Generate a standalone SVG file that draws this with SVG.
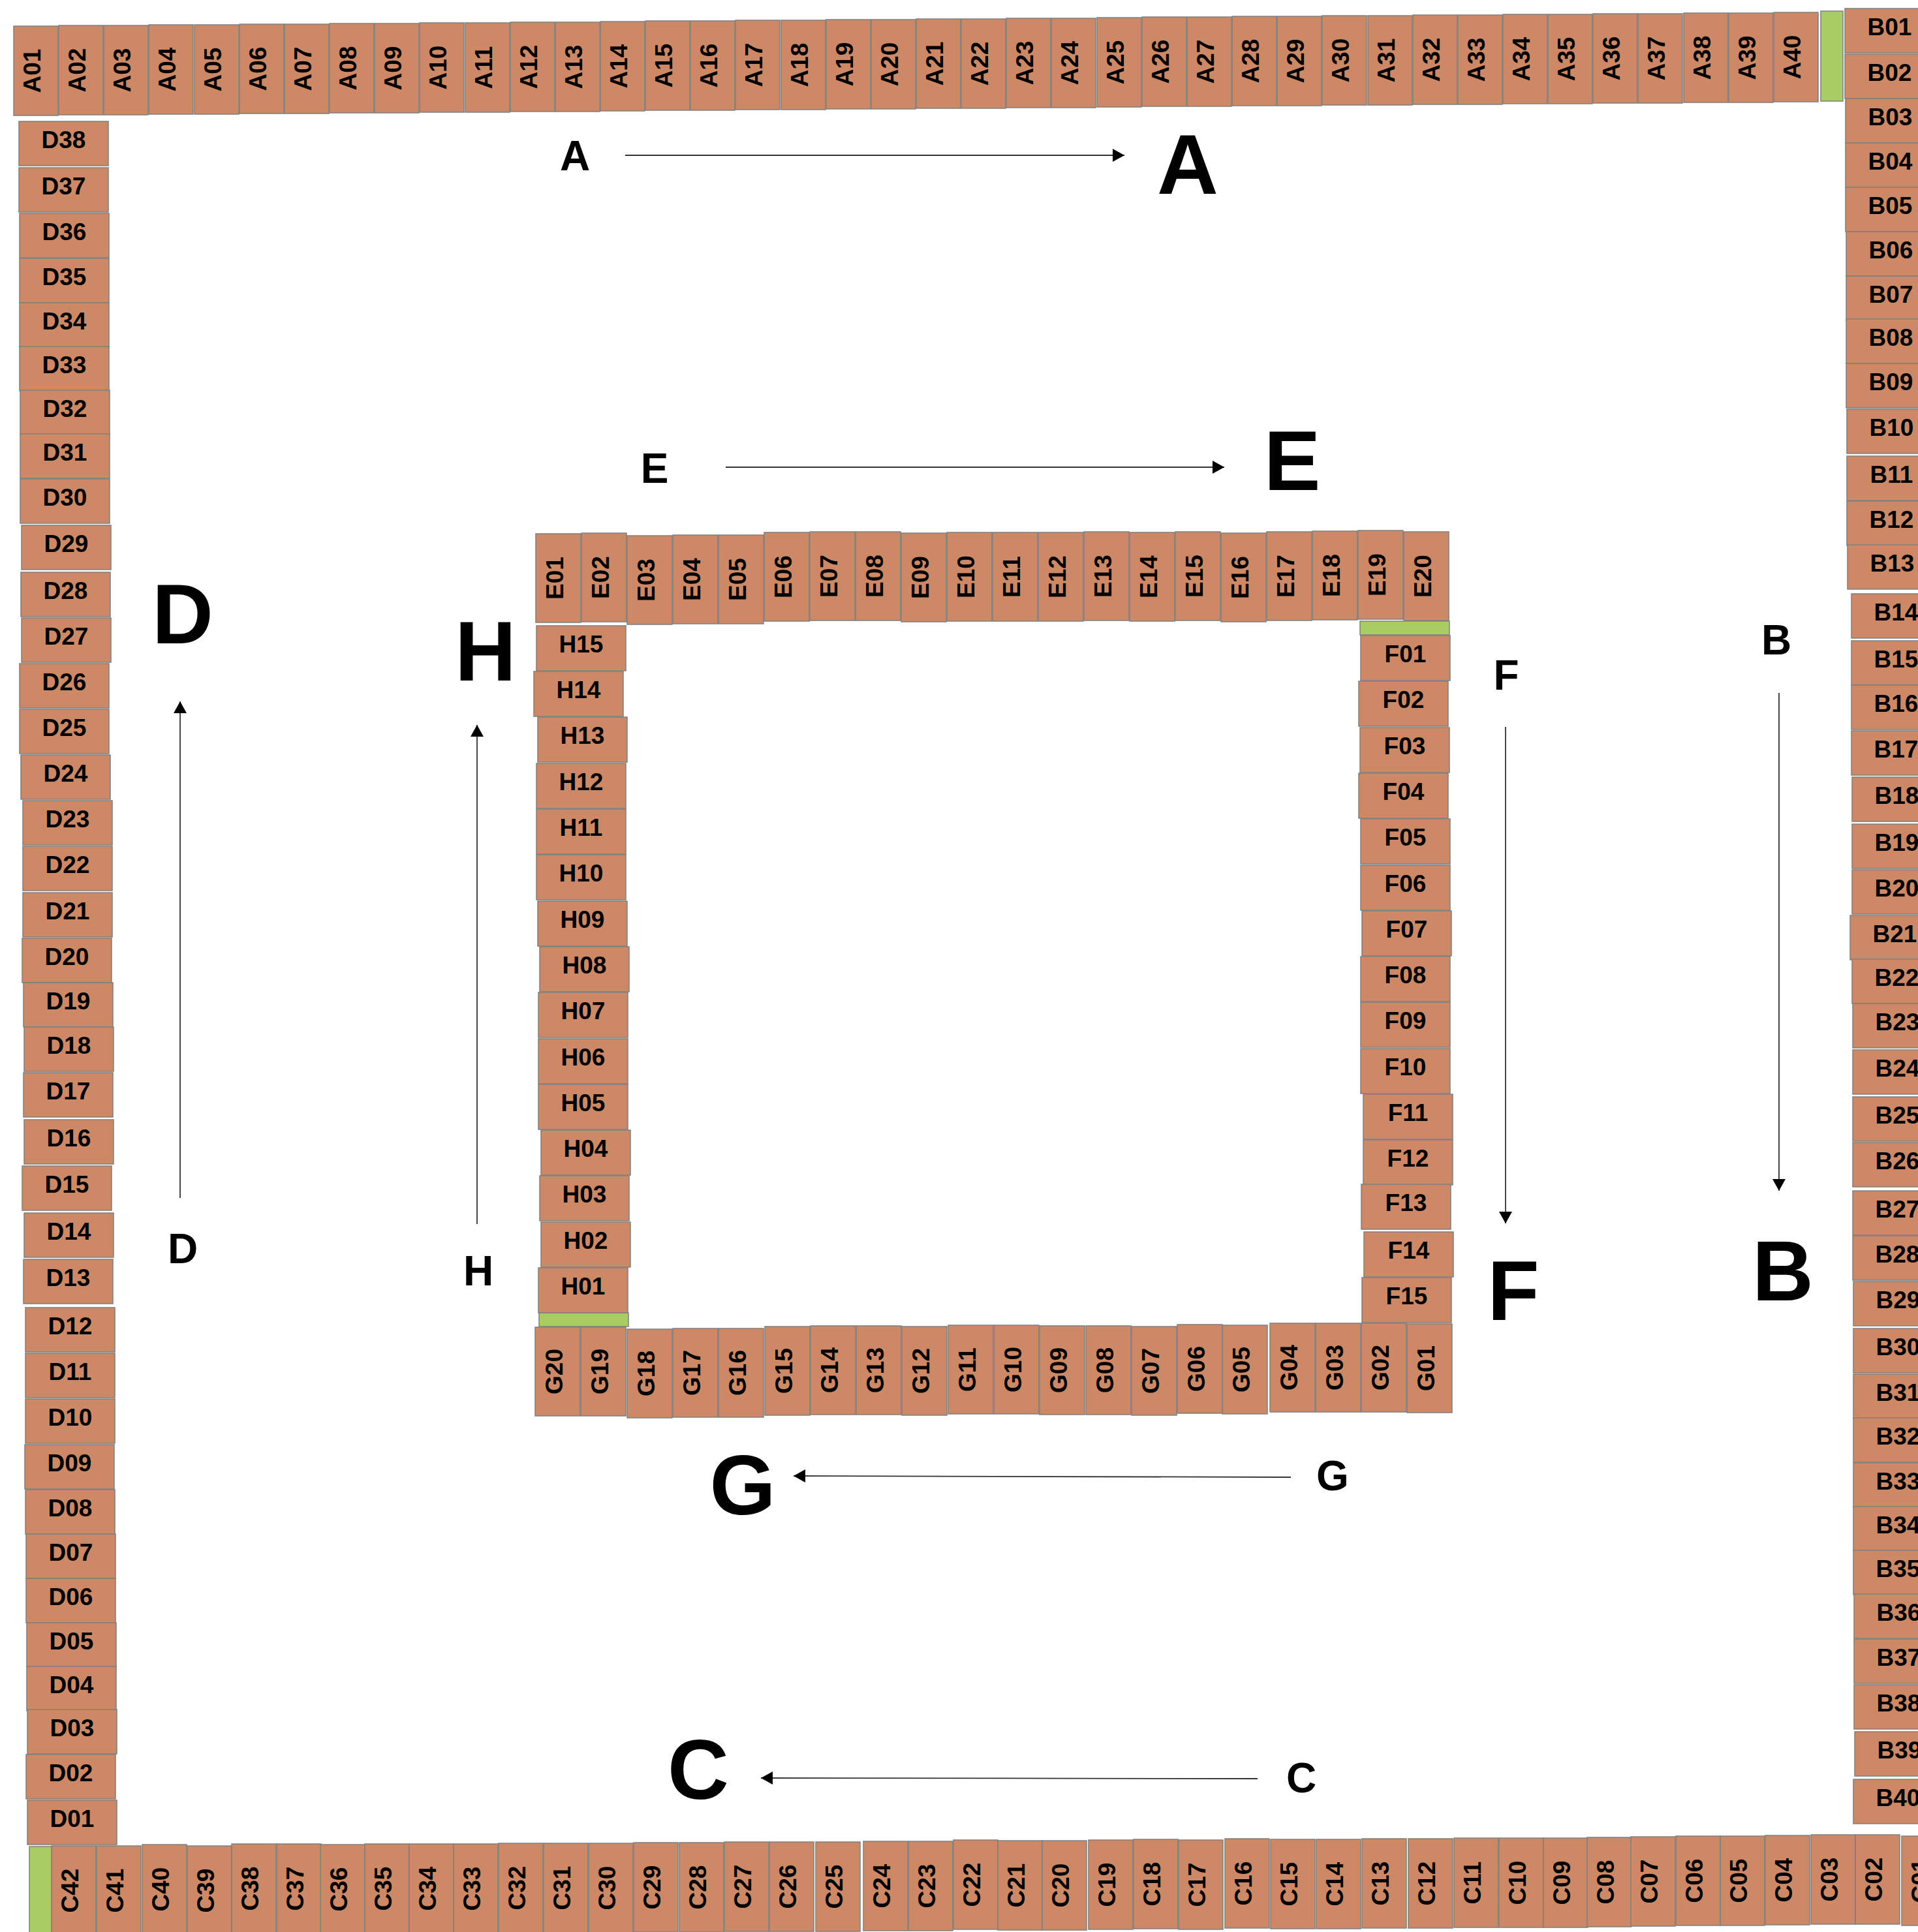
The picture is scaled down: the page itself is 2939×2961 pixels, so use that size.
<svg xmlns="http://www.w3.org/2000/svg" width="2939" height="2961" viewBox="0 0 2939 2961">
<style>
.b{fill:#CD8966;stroke:#7F7F7F;stroke-width:1.5}
.g{fill:#A9CC63;stroke:#7F7F7F;stroke-width:1.5}
text{font-family:"Liberation Sans",Arial,sans-serif;font-weight:bold;fill:#000}
.t{font-size:37px;text-anchor:middle;dominant-baseline:central}
.v{transform:rotate(-90deg)}
.sm{font-size:64px;text-anchor:middle}
.bg{font-size:130px;text-anchor:middle}
.ar{stroke:#333;stroke-width:1.8;fill:none;marker-end:url(#ah)}
</style>
<defs>
<marker id="ah" viewBox="0 0 18 20" refX="18" refY="10" markerWidth="18" markerHeight="20" markerUnits="userSpaceOnUse" orient="auto"><path d="M0,0 L18,10 L0,20 Z" fill="#000"/></marker>
</defs>
<rect width="2939" height="2961" fill="#fff"/>
<g id="rowA">
<g id="A01" transform="translate(21,40)"><rect class="b" width="68" height="137"/><text class="t v" x="-68.5" y="28.5">A01</text></g>
<g id="A02" transform="translate(90,39)"><rect class="b" width="68" height="137"/><text class="t v" x="-68.5" y="28.5">A02</text></g>
<g id="A03" transform="translate(159,39)"><rect class="b" width="68" height="137"/><text class="t v" x="-68.5" y="28.5">A03</text></g>
<g id="A04" transform="translate(228,38)"><rect class="b" width="68" height="137"/><text class="t v" x="-68.5" y="28.5">A04</text></g>
<g id="A05" transform="translate(298,38)"><rect class="b" width="68" height="137"/><text class="t v" x="-68.5" y="28.5">A05</text></g>
<g id="A06" transform="translate(367,37)"><rect class="b" width="68" height="137"/><text class="t v" x="-68.5" y="28.5">A06</text></g>
<g id="A07" transform="translate(436,37)"><rect class="b" width="68" height="137"/><text class="t v" x="-68.5" y="28.5">A07</text></g>
<g id="A08" transform="translate(505,36)"><rect class="b" width="68" height="137"/><text class="t v" x="-68.5" y="28.5">A08</text></g>
<g id="A09" transform="translate(574,36)"><rect class="b" width="68" height="137"/><text class="t v" x="-68.5" y="28.5">A09</text></g>
<g id="A10" transform="translate(643,35)"><rect class="b" width="68" height="137"/><text class="t v" x="-68.5" y="28.5">A10</text></g>
<g id="A11" transform="translate(713,35)"><rect class="b" width="68" height="137"/><text class="t v" x="-68.5" y="28.5">A11</text></g>
<g id="A12" transform="translate(782,34)"><rect class="b" width="68" height="137"/><text class="t v" x="-68.5" y="28.5">A12</text></g>
<g id="A13" transform="translate(851,34)"><rect class="b" width="68" height="137"/><text class="t v" x="-68.5" y="28.5">A13</text></g>
<g id="A14" transform="translate(920,33)"><rect class="b" width="68" height="137"/><text class="t v" x="-68.5" y="28.5">A14</text></g>
<g id="A15" transform="translate(989,32)"><rect class="b" width="68" height="137"/><text class="t v" x="-68.5" y="28.5">A15</text></g>
<g id="A16" transform="translate(1058,32)"><rect class="b" width="68" height="137"/><text class="t v" x="-68.5" y="28.5">A16</text></g>
<g id="A17" transform="translate(1127,31)"><rect class="b" width="68" height="137"/><text class="t v" x="-68.5" y="28.5">A17</text></g>
<g id="A18" transform="translate(1197,31)"><rect class="b" width="68" height="137"/><text class="t v" x="-68.5" y="28.5">A18</text></g>
<g id="A19" transform="translate(1266,30)"><rect class="b" width="68" height="137"/><text class="t v" x="-68.5" y="28.5">A19</text></g>
<g id="A20" transform="translate(1335,30)"><rect class="b" width="68" height="137"/><text class="t v" x="-68.5" y="28.5">A20</text></g>
<g id="A21" transform="translate(1404,29)"><rect class="b" width="68" height="137"/><text class="t v" x="-68.5" y="28.5">A21</text></g>
<g id="A22" transform="translate(1473,29)"><rect class="b" width="68" height="137"/><text class="t v" x="-68.5" y="28.5">A22</text></g>
<g id="A23" transform="translate(1542,28)"><rect class="b" width="68" height="137"/><text class="t v" x="-68.5" y="28.5">A23</text></g>
<g id="A24" transform="translate(1611,28)"><rect class="b" width="68" height="137"/><text class="t v" x="-68.5" y="28.5">A24</text></g>
<g id="A25" transform="translate(1681,27)"><rect class="b" width="68" height="137"/><text class="t v" x="-68.5" y="28.5">A25</text></g>
<g id="A26" transform="translate(1750,26)"><rect class="b" width="68" height="137"/><text class="t v" x="-68.5" y="28.5">A26</text></g>
<g id="A27" transform="translate(1819,26)"><rect class="b" width="68" height="137"/><text class="t v" x="-68.5" y="28.5">A27</text></g>
<g id="A28" transform="translate(1888,25)"><rect class="b" width="68" height="137"/><text class="t v" x="-68.5" y="28.5">A28</text></g>
<g id="A29" transform="translate(1957,25)"><rect class="b" width="68" height="137"/><text class="t v" x="-68.5" y="28.5">A29</text></g>
<g id="A30" transform="translate(2026,24)"><rect class="b" width="68" height="137"/><text class="t v" x="-68.5" y="28.5">A30</text></g>
<g id="A31" transform="translate(2096,24)"><rect class="b" width="68" height="137"/><text class="t v" x="-68.5" y="28.5">A31</text></g>
<g id="A32" transform="translate(2165,23)"><rect class="b" width="68" height="137"/><text class="t v" x="-68.5" y="28.5">A32</text></g>
<g id="A33" transform="translate(2234,23)"><rect class="b" width="68" height="137"/><text class="t v" x="-68.5" y="28.5">A33</text></g>
<g id="A34" transform="translate(2303,22)"><rect class="b" width="68" height="137"/><text class="t v" x="-68.5" y="28.5">A34</text></g>
<g id="A35" transform="translate(2372,22)"><rect class="b" width="68" height="137"/><text class="t v" x="-68.5" y="28.5">A35</text></g>
<g id="A36" transform="translate(2441,21)"><rect class="b" width="68" height="137"/><text class="t v" x="-68.5" y="28.5">A36</text></g>
<g id="A37" transform="translate(2510,21)"><rect class="b" width="68" height="137"/><text class="t v" x="-68.5" y="28.5">A37</text></g>
<g id="A38" transform="translate(2580,20)"><rect class="b" width="68" height="137"/><text class="t v" x="-68.5" y="28.5">A38</text></g>
<g id="A39" transform="translate(2649,20)"><rect class="b" width="68" height="137"/><text class="t v" x="-68.5" y="28.5">A39</text></g>
<g id="A40" transform="translate(2718,19)"><rect class="b" width="68" height="137"/><text class="t v" x="-68.5" y="28.5">A40</text></g>
<rect id="greenAB" class="g" x="2790" y="17" width="34" height="138"/>
</g>
<g id="colB">
<g id="B01" transform="translate(2827,13)"><rect class="b" width="137" height="68"/><text class="t" x="68.5" y="28">B01</text></g>
<g id="B02" transform="translate(2827,83)"><rect class="b" width="137" height="68"/><text class="t" x="68.5" y="28">B02</text></g>
<g id="B03" transform="translate(2828,151)"><rect class="b" width="137" height="68"/><text class="t" x="68.5" y="28">B03</text></g>
<g id="B04" transform="translate(2828,219)"><rect class="b" width="137" height="68"/><text class="t" x="68.5" y="28">B04</text></g>
<g id="B05" transform="translate(2828,287)"><rect class="b" width="137" height="68"/><text class="t" x="68.5" y="28">B05</text></g>
<g id="B06" transform="translate(2829,355)"><rect class="b" width="137" height="68"/><text class="t" x="68.5" y="28">B06</text></g>
<g id="B07" transform="translate(2829,423)"><rect class="b" width="137" height="68"/><text class="t" x="68.5" y="28">B07</text></g>
<g id="B08" transform="translate(2829,489)"><rect class="b" width="137" height="68"/><text class="t" x="68.5" y="28">B08</text></g>
<g id="B09" transform="translate(2829,557)"><rect class="b" width="137" height="68"/><text class="t" x="68.5" y="28">B09</text></g>
<g id="B10" transform="translate(2830,627)"><rect class="b" width="137" height="68"/><text class="t" x="68.5" y="28">B10</text></g>
<g id="B11" transform="translate(2830,699)"><rect class="b" width="137" height="68"/><text class="t" x="68.5" y="28">B11</text></g>
<g id="B12" transform="translate(2830,768)"><rect class="b" width="137" height="68"/><text class="t" x="68.5" y="28">B12</text></g>
<g id="B13" transform="translate(2831,835)"><rect class="b" width="137" height="68"/><text class="t" x="68.5" y="28">B13</text></g>
<g id="B14" transform="translate(2837,910)"><rect class="b" width="137" height="68"/><text class="t" x="68.5" y="28">B14</text></g>
<g id="B15" transform="translate(2837,982)"><rect class="b" width="137" height="68"/><text class="t" x="68.5" y="28">B15</text></g>
<g id="B16" transform="translate(2837,1050)"><rect class="b" width="137" height="68"/><text class="t" x="68.5" y="28">B16</text></g>
<g id="B17" transform="translate(2837,1120)"><rect class="b" width="137" height="68"/><text class="t" x="68.5" y="28">B17</text></g>
<g id="B18" transform="translate(2838,1191)"><rect class="b" width="137" height="68"/><text class="t" x="68.5" y="28">B18</text></g>
<g id="B19" transform="translate(2838,1263)"><rect class="b" width="137" height="68"/><text class="t" x="68.5" y="28">B19</text></g>
<g id="B20" transform="translate(2838,1333)"><rect class="b" width="137" height="68"/><text class="t" x="68.5" y="28">B20</text></g>
<g id="B21" transform="translate(2835,1403)"><rect class="b" width="137" height="68"/><text class="t" x="68.5" y="28">B21</text></g>
<g id="B22" transform="translate(2838,1470)"><rect class="b" width="137" height="68"/><text class="t" x="68.5" y="28">B22</text></g>
<g id="B23" transform="translate(2839,1538)"><rect class="b" width="137" height="68"/><text class="t" x="68.5" y="28">B23</text></g>
<g id="B24" transform="translate(2839,1609)"><rect class="b" width="137" height="68"/><text class="t" x="68.5" y="28">B24</text></g>
<g id="B25" transform="translate(2839,1681)"><rect class="b" width="137" height="68"/><text class="t" x="68.5" y="28">B25</text></g>
<g id="B26" transform="translate(2839,1751)"><rect class="b" width="137" height="68"/><text class="t" x="68.5" y="28">B26</text></g>
<g id="B27" transform="translate(2839,1825)"><rect class="b" width="137" height="68"/><text class="t" x="68.5" y="28">B27</text></g>
<g id="B28" transform="translate(2839,1894)"><rect class="b" width="137" height="68"/><text class="t" x="68.5" y="28">B28</text></g>
<g id="B29" transform="translate(2840,1964)"><rect class="b" width="137" height="68"/><text class="t" x="68.5" y="28">B29</text></g>
<g id="B30" transform="translate(2840,2036)"><rect class="b" width="137" height="68"/><text class="t" x="68.5" y="28">B30</text></g>
<g id="B31" transform="translate(2840,2106)"><rect class="b" width="137" height="68"/><text class="t" x="68.5" y="28">B31</text></g>
<g id="B32" transform="translate(2840,2173)"><rect class="b" width="137" height="68"/><text class="t" x="68.5" y="28">B32</text></g>
<g id="B33" transform="translate(2840,2242)"><rect class="b" width="137" height="68"/><text class="t" x="68.5" y="28">B33</text></g>
<g id="B34" transform="translate(2840,2309)"><rect class="b" width="137" height="68"/><text class="t" x="68.5" y="28">B34</text></g>
<g id="B35" transform="translate(2840,2376)"><rect class="b" width="137" height="68"/><text class="t" x="68.5" y="28">B35</text></g>
<g id="B36" transform="translate(2841,2443)"><rect class="b" width="137" height="68"/><text class="t" x="68.5" y="28">B36</text></g>
<g id="B37" transform="translate(2841,2512)"><rect class="b" width="137" height="68"/><text class="t" x="68.5" y="28">B37</text></g>
<g id="B38" transform="translate(2841,2582)"><rect class="b" width="137" height="68"/><text class="t" x="68.5" y="28">B38</text></g>
<g id="B39" transform="translate(2842,2654)"><rect class="b" width="137" height="68"/><text class="t" x="68.5" y="28">B39</text></g>
<g id="B40" transform="translate(2840,2727)"><rect class="b" width="137" height="68"/><text class="t" x="68.5" y="28">B40</text></g>
</g>
<g id="colD">
<g id="D38" transform="translate(29,186)"><rect class="b" width="137" height="68"/><text class="t" x="68.5" y="28">D38</text></g>
<g id="D37" transform="translate(29,257)"><rect class="b" width="137" height="68"/><text class="t" x="68.5" y="28">D37</text></g>
<g id="D36" transform="translate(30,327)"><rect class="b" width="137" height="68"/><text class="t" x="68.5" y="28">D36</text></g>
<g id="D35" transform="translate(30,396)"><rect class="b" width="137" height="68"/><text class="t" x="68.5" y="28">D35</text></g>
<g id="D34" transform="translate(30,464)"><rect class="b" width="137" height="68"/><text class="t" x="68.5" y="28">D34</text></g>
<g id="D33" transform="translate(30,531)"><rect class="b" width="137" height="68"/><text class="t" x="68.5" y="28">D33</text></g>
<g id="D32" transform="translate(31,598)"><rect class="b" width="137" height="68"/><text class="t" x="68.5" y="28">D32</text></g>
<g id="D31" transform="translate(31,665)"><rect class="b" width="137" height="68"/><text class="t" x="68.5" y="28">D31</text></g>
<g id="D30" transform="translate(31,734)"><rect class="b" width="137" height="68"/><text class="t" x="68.5" y="28">D30</text></g>
<g id="D29" transform="translate(33,805)"><rect class="b" width="137" height="68"/><text class="t" x="68.5" y="28">D29</text></g>
<g id="D28" transform="translate(32,877)"><rect class="b" width="137" height="68"/><text class="t" x="68.5" y="28">D28</text></g>
<g id="D27" transform="translate(33,947)"><rect class="b" width="137" height="68"/><text class="t" x="68.5" y="28">D27</text></g>
<g id="D26" transform="translate(30,1017)"><rect class="b" width="137" height="68"/><text class="t" x="68.5" y="28">D26</text></g>
<g id="D25" transform="translate(30,1087)"><rect class="b" width="137" height="68"/><text class="t" x="68.5" y="28">D25</text></g>
<g id="D24" transform="translate(32,1157)"><rect class="b" width="137" height="68"/><text class="t" x="68.5" y="28">D24</text></g>
<g id="D23" transform="translate(35,1227)"><rect class="b" width="137" height="68"/><text class="t" x="68.5" y="28">D23</text></g>
<g id="D22" transform="translate(35,1297)"><rect class="b" width="137" height="68"/><text class="t" x="68.5" y="28">D22</text></g>
<g id="D21" transform="translate(35,1368)"><rect class="b" width="137" height="68"/><text class="t" x="68.5" y="28">D21</text></g>
<g id="D20" transform="translate(34,1438)"><rect class="b" width="137" height="68"/><text class="t" x="68.5" y="28">D20</text></g>
<g id="D19" transform="translate(36,1506)"><rect class="b" width="137" height="68"/><text class="t" x="68.5" y="28">D19</text></g>
<g id="D18" transform="translate(37,1574)"><rect class="b" width="137" height="68"/><text class="t" x="68.5" y="28">D18</text></g>
<g id="D17" transform="translate(36,1644)"><rect class="b" width="137" height="68"/><text class="t" x="68.5" y="28">D17</text></g>
<g id="D16" transform="translate(37,1716)"><rect class="b" width="137" height="68"/><text class="t" x="68.5" y="28">D16</text></g>
<g id="D15" transform="translate(34,1787)"><rect class="b" width="137" height="68"/><text class="t" x="68.5" y="28">D15</text></g>
<g id="D14" transform="translate(37,1859)"><rect class="b" width="137" height="68"/><text class="t" x="68.5" y="28">D14</text></g>
<g id="D13" transform="translate(36,1930)"><rect class="b" width="137" height="68"/><text class="t" x="68.5" y="28">D13</text></g>
<g id="D12" transform="translate(39,2004)"><rect class="b" width="137" height="68"/><text class="t" x="68.5" y="28">D12</text></g>
<g id="D11" transform="translate(39,2074)"><rect class="b" width="137" height="68"/><text class="t" x="68.5" y="28">D11</text></g>
<g id="D10" transform="translate(39,2144)"><rect class="b" width="137" height="68"/><text class="t" x="68.5" y="28">D10</text></g>
<g id="D09" transform="translate(38,2214)"><rect class="b" width="137" height="68"/><text class="t" x="68.5" y="28">D09</text></g>
<g id="D08" transform="translate(39,2283)"><rect class="b" width="137" height="68"/><text class="t" x="68.5" y="28">D08</text></g>
<g id="D07" transform="translate(40,2351)"><rect class="b" width="137" height="68"/><text class="t" x="68.5" y="28">D07</text></g>
<g id="D06" transform="translate(40,2419)"><rect class="b" width="137" height="68"/><text class="t" x="68.5" y="28">D06</text></g>
<g id="D05" transform="translate(41,2487)"><rect class="b" width="137" height="68"/><text class="t" x="68.5" y="28">D05</text></g>
<g id="D04" transform="translate(41,2554)"><rect class="b" width="137" height="68"/><text class="t" x="68.5" y="28">D04</text></g>
<g id="D03" transform="translate(42,2620)"><rect class="b" width="137" height="68"/><text class="t" x="68.5" y="28">D03</text></g>
<g id="D02" transform="translate(40,2689)"><rect class="b" width="137" height="68"/><text class="t" x="68.5" y="28">D02</text></g>
<g id="D01" transform="translate(42,2759)"><rect class="b" width="137" height="68"/><text class="t" x="68.5" y="28">D01</text></g>
</g>
<g id="rowC">
<rect id="greenCD" class="g" x="45" y="2830" width="34" height="137"/>
<g id="C42" transform="translate(79,2829)"><rect class="b" width="68" height="137"/><text class="t v" x="-68.5" y="28.5">C42</text></g>
<g id="C41" transform="translate(148,2829)"><rect class="b" width="68" height="137"/><text class="t v" x="-68.5" y="28.5">C41</text></g>
<g id="C40" transform="translate(218,2827)"><rect class="b" width="68" height="137"/><text class="t v" x="-68.5" y="28.5">C40</text></g>
<g id="C39" transform="translate(287,2829)"><rect class="b" width="68" height="137"/><text class="t v" x="-68.5" y="28.5">C39</text></g>
<g id="C38" transform="translate(355,2826)"><rect class="b" width="68" height="137"/><text class="t v" x="-68.5" y="28.5">C38</text></g>
<g id="C37" transform="translate(424,2826)"><rect class="b" width="68" height="137"/><text class="t v" x="-68.5" y="28.5">C37</text></g>
<g id="C36" transform="translate(491,2827)"><rect class="b" width="68" height="137"/><text class="t v" x="-68.5" y="28.5">C36</text></g>
<g id="C35" transform="translate(559,2826)"><rect class="b" width="68" height="137"/><text class="t v" x="-68.5" y="28.5">C35</text></g>
<g id="C34" transform="translate(627,2826)"><rect class="b" width="68" height="137"/><text class="t v" x="-68.5" y="28.5">C34</text></g>
<g id="C33" transform="translate(695,2826)"><rect class="b" width="68" height="137"/><text class="t v" x="-68.5" y="28.5">C33</text></g>
<g id="C32" transform="translate(764,2825)"><rect class="b" width="68" height="137"/><text class="t v" x="-68.5" y="28.5">C32</text></g>
<g id="C31" transform="translate(833,2825)"><rect class="b" width="68" height="137"/><text class="t v" x="-68.5" y="28.5">C31</text></g>
<g id="C30" transform="translate(902,2825)"><rect class="b" width="68" height="137"/><text class="t v" x="-68.5" y="28.5">C30</text></g>
<g id="C29" transform="translate(971,2824)"><rect class="b" width="68" height="137"/><text class="t v" x="-68.5" y="28.5">C29</text></g>
<g id="C28" transform="translate(1041,2824)"><rect class="b" width="68" height="137"/><text class="t v" x="-68.5" y="28.5">C28</text></g>
<g id="C27" transform="translate(1110,2823)"><rect class="b" width="68" height="137"/><text class="t v" x="-68.5" y="28.5">C27</text></g>
<g id="C26" transform="translate(1179,2823)"><rect class="b" width="68" height="137"/><text class="t v" x="-68.5" y="28.5">C26</text></g>
<g id="C25" transform="translate(1250,2823)"><rect class="b" width="68" height="137"/><text class="t v" x="-68.5" y="28.5">C25</text></g>
<g id="C24" transform="translate(1323,2822)"><rect class="b" width="68" height="137"/><text class="t v" x="-68.5" y="28.5">C24</text></g>
<g id="C23" transform="translate(1392,2822)"><rect class="b" width="68" height="137"/><text class="t v" x="-68.5" y="28.5">C23</text></g>
<g id="C22" transform="translate(1461,2820)"><rect class="b" width="68" height="137"/><text class="t v" x="-68.5" y="28.5">C22</text></g>
<g id="C21" transform="translate(1529,2821)"><rect class="b" width="68" height="137"/><text class="t v" x="-68.5" y="28.5">C21</text></g>
<g id="C20" transform="translate(1597,2821)"><rect class="b" width="68" height="137"/><text class="t v" x="-68.5" y="28.5">C20</text></g>
<g id="C19" transform="translate(1668,2820)"><rect class="b" width="68" height="137"/><text class="t v" x="-68.5" y="28.5">C19</text></g>
<g id="C18" transform="translate(1737,2819)"><rect class="b" width="68" height="137"/><text class="t v" x="-68.5" y="28.5">C18</text></g>
<g id="C17" transform="translate(1806,2820)"><rect class="b" width="68" height="137"/><text class="t v" x="-68.5" y="28.5">C17</text></g>
<g id="C16" transform="translate(1877,2818)"><rect class="b" width="68" height="137"/><text class="t v" x="-68.5" y="28.5">C16</text></g>
<g id="C15" transform="translate(1947,2819)"><rect class="b" width="68" height="137"/><text class="t v" x="-68.5" y="28.5">C15</text></g>
<g id="C14" transform="translate(2017,2819)"><rect class="b" width="68" height="137"/><text class="t v" x="-68.5" y="28.5">C14</text></g>
<g id="C13" transform="translate(2087,2818)"><rect class="b" width="68" height="137"/><text class="t v" x="-68.5" y="28.5">C13</text></g>
<g id="C12" transform="translate(2158,2818)"><rect class="b" width="68" height="137"/><text class="t v" x="-68.5" y="28.5">C12</text></g>
<g id="C11" transform="translate(2228,2817)"><rect class="b" width="68" height="137"/><text class="t v" x="-68.5" y="28.5">C11</text></g>
<g id="C10" transform="translate(2297,2817)"><rect class="b" width="68" height="137"/><text class="t v" x="-68.5" y="28.5">C10</text></g>
<g id="C09" transform="translate(2365,2817)"><rect class="b" width="68" height="137"/><text class="t v" x="-68.5" y="28.5">C09</text></g>
<g id="C08" transform="translate(2432,2816)"><rect class="b" width="68" height="137"/><text class="t v" x="-68.5" y="28.5">C08</text></g>
<g id="C07" transform="translate(2499,2815)"><rect class="b" width="68" height="137"/><text class="t v" x="-68.5" y="28.5">C07</text></g>
<g id="C06" transform="translate(2568,2814)"><rect class="b" width="68" height="137"/><text class="t v" x="-68.5" y="28.5">C06</text></g>
<g id="C05" transform="translate(2636,2814)"><rect class="b" width="68" height="137"/><text class="t v" x="-68.5" y="28.5">C05</text></g>
<g id="C04" transform="translate(2705,2813)"><rect class="b" width="68" height="137"/><text class="t v" x="-68.5" y="28.5">C04</text></g>
<g id="C03" transform="translate(2775,2812)"><rect class="b" width="68" height="137"/><text class="t v" x="-68.5" y="28.5">C03</text></g>
<g id="C02" transform="translate(2843,2812)"><rect class="b" width="68" height="137"/><text class="t v" x="-68.5" y="28.5">C02</text></g>
<g id="C01" transform="translate(2914,2814)"><rect class="b" width="68" height="137"/><text class="t v" x="-68.5" y="28.5">C01</text></g>
</g>
<g id="rowE">
<g id="E01" transform="translate(821,818)"><rect class="b" width="69" height="136"/><text class="t v" x="-68" y="29">E01</text></g>
<g id="E02" transform="translate(891,817)"><rect class="b" width="69" height="136"/><text class="t v" x="-68" y="29">E02</text></g>
<g id="E03" transform="translate(961,821)"><rect class="b" width="69" height="136"/><text class="t v" x="-68" y="29">E03</text></g>
<g id="E04" transform="translate(1031,820)"><rect class="b" width="69" height="136"/><text class="t v" x="-68" y="29">E04</text></g>
<g id="E05" transform="translate(1101,820)"><rect class="b" width="69" height="136"/><text class="t v" x="-68" y="29">E05</text></g>
<g id="E06" transform="translate(1171,816)"><rect class="b" width="69" height="136"/><text class="t v" x="-68" y="29">E06</text></g>
<g id="E07" transform="translate(1241,815)"><rect class="b" width="69" height="136"/><text class="t v" x="-68" y="29">E07</text></g>
<g id="E08" transform="translate(1311,815)"><rect class="b" width="69" height="136"/><text class="t v" x="-68" y="29">E08</text></g>
<g id="E09" transform="translate(1381,817)"><rect class="b" width="69" height="136"/><text class="t v" x="-68" y="29">E09</text></g>
<g id="E10" transform="translate(1451,816)"><rect class="b" width="69" height="136"/><text class="t v" x="-68" y="29">E10</text></g>
<g id="E11" transform="translate(1521,816)"><rect class="b" width="69" height="136"/><text class="t v" x="-68" y="29">E11</text></g>
<g id="E12" transform="translate(1591,816)"><rect class="b" width="69" height="136"/><text class="t v" x="-68" y="29">E12</text></g>
<g id="E13" transform="translate(1661,815)"><rect class="b" width="69" height="136"/><text class="t v" x="-68" y="29">E13</text></g>
<g id="E14" transform="translate(1731,816)"><rect class="b" width="69" height="136"/><text class="t v" x="-68" y="29">E14</text></g>
<g id="E15" transform="translate(1801,815)"><rect class="b" width="69" height="136"/><text class="t v" x="-68" y="29">E15</text></g>
<g id="E16" transform="translate(1871,817)"><rect class="b" width="69" height="136"/><text class="t v" x="-68" y="29">E16</text></g>
<g id="E17" transform="translate(1941,815)"><rect class="b" width="69" height="136"/><text class="t v" x="-68" y="29">E17</text></g>
<g id="E18" transform="translate(2011,814)"><rect class="b" width="69" height="136"/><text class="t v" x="-68" y="29">E18</text></g>
<g id="E19" transform="translate(2081,813)"><rect class="b" width="69" height="136"/><text class="t v" x="-68" y="29">E19</text></g>
<g id="E20" transform="translate(2151,815)"><rect class="b" width="69" height="136"/><text class="t v" x="-68" y="29">E20</text></g>
<rect id="greenEF" class="g" x="2084" y="952" width="137" height="21"/>
</g>
<g id="colF">
<g id="F01" transform="translate(2085,974)"><rect class="b" width="137" height="69"/><text class="t" x="68.5" y="28.5">F01</text></g>
<g id="F02" transform="translate(2082,1044)"><rect class="b" width="137" height="69"/><text class="t" x="68.5" y="28.5">F02</text></g>
<g id="F03" transform="translate(2084,1115)"><rect class="b" width="137" height="69"/><text class="t" x="68.5" y="28.5">F03</text></g>
<g id="F04" transform="translate(2082,1185)"><rect class="b" width="137" height="69"/><text class="t" x="68.5" y="28.5">F04</text></g>
<g id="F05" transform="translate(2085,1255)"><rect class="b" width="137" height="69"/><text class="t" x="68.5" y="28.5">F05</text></g>
<g id="F06" transform="translate(2085,1326)"><rect class="b" width="137" height="69"/><text class="t" x="68.5" y="28.5">F06</text></g>
<g id="F07" transform="translate(2087,1396)"><rect class="b" width="137" height="69"/><text class="t" x="68.5" y="28.5">F07</text></g>
<g id="F08" transform="translate(2085,1466)"><rect class="b" width="137" height="69"/><text class="t" x="68.5" y="28.5">F08</text></g>
<g id="F09" transform="translate(2085,1536)"><rect class="b" width="137" height="69"/><text class="t" x="68.5" y="28.5">F09</text></g>
<g id="F10" transform="translate(2085,1607)"><rect class="b" width="137" height="69"/><text class="t" x="68.5" y="28.5">F10</text></g>
<g id="F11" transform="translate(2089,1677)"><rect class="b" width="137" height="69"/><text class="t" x="68.5" y="28.5">F11</text></g>
<g id="F12" transform="translate(2089,1747)"><rect class="b" width="137" height="69"/><text class="t" x="68.5" y="28.5">F12</text></g>
<g id="F13" transform="translate(2086,1815)"><rect class="b" width="137" height="69"/><text class="t" x="68.5" y="28.5">F13</text></g>
<g id="F14" transform="translate(2090,1888)"><rect class="b" width="137" height="69"/><text class="t" x="68.5" y="28.5">F14</text></g>
<g id="F15" transform="translate(2087,1958)"><rect class="b" width="137" height="69"/><text class="t" x="68.5" y="28.5">F15</text></g>
</g>
<g id="rowG">
<g id="G20" transform="translate(820,2034)"><rect class="b" width="69" height="136"/><text class="t v" x="-68" y="29">G20</text></g>
<g id="G19" transform="translate(890,2034)"><rect class="b" width="69" height="136"/><text class="t v" x="-68" y="29">G19</text></g>
<g id="G18" transform="translate(961,2037)"><rect class="b" width="69" height="136"/><text class="t v" x="-68" y="29">G18</text></g>
<g id="G17" transform="translate(1031,2036)"><rect class="b" width="69" height="136"/><text class="t v" x="-68" y="29">G17</text></g>
<g id="G16" transform="translate(1101,2036)"><rect class="b" width="69" height="136"/><text class="t v" x="-68" y="29">G16</text></g>
<g id="G15" transform="translate(1172,2033)"><rect class="b" width="69" height="136"/><text class="t v" x="-68" y="29">G15</text></g>
<g id="G14" transform="translate(1242,2032)"><rect class="b" width="69" height="136"/><text class="t v" x="-68" y="29">G14</text></g>
<g id="G13" transform="translate(1312,2032)"><rect class="b" width="69" height="136"/><text class="t v" x="-68" y="29">G13</text></g>
<g id="G12" transform="translate(1382,2033)"><rect class="b" width="69" height="136"/><text class="t v" x="-68" y="29">G12</text></g>
<g id="G11" transform="translate(1453,2031)"><rect class="b" width="69" height="136"/><text class="t v" x="-68" y="29">G11</text></g>
<g id="G10" transform="translate(1523,2031)"><rect class="b" width="69" height="136"/><text class="t v" x="-68" y="29">G10</text></g>
<g id="G09" transform="translate(1593,2032)"><rect class="b" width="69" height="136"/><text class="t v" x="-68" y="29">G09</text></g>
<g id="G08" transform="translate(1664,2032)"><rect class="b" width="69" height="136"/><text class="t v" x="-68" y="29">G08</text></g>
<g id="G07" transform="translate(1734,2033)"><rect class="b" width="69" height="136"/><text class="t v" x="-68" y="29">G07</text></g>
<g id="G06" transform="translate(1804,2030)"><rect class="b" width="69" height="136"/><text class="t v" x="-68" y="29">G06</text></g>
<g id="G05" transform="translate(1873,2031)"><rect class="b" width="69" height="136"/><text class="t v" x="-68" y="29">G05</text></g>
<g id="G04" transform="translate(1946,2028)"><rect class="b" width="69" height="136"/><text class="t v" x="-68" y="29">G04</text></g>
<g id="G03" transform="translate(2016,2028)"><rect class="b" width="69" height="136"/><text class="t v" x="-68" y="29">G03</text></g>
<g id="G02" transform="translate(2086,2028)"><rect class="b" width="69" height="136"/><text class="t v" x="-68" y="29">G02</text></g>
<g id="G01" transform="translate(2156,2029)"><rect class="b" width="69" height="136"/><text class="t v" x="-68" y="29">G01</text></g>
</g>
<g id="colH">
<rect id="greenGH" class="g" x="826" y="2012" width="137" height="21"/>
<g id="H01" transform="translate(825,1943)"><rect class="b" width="137" height="69"/><text class="t" x="68.5" y="28.5">H01</text></g>
<g id="H02" transform="translate(829,1873)"><rect class="b" width="137" height="69"/><text class="t" x="68.5" y="28.5">H02</text></g>
<g id="H03" transform="translate(827,1802)"><rect class="b" width="137" height="69"/><text class="t" x="68.5" y="28.5">H03</text></g>
<g id="H04" transform="translate(829,1732)"><rect class="b" width="137" height="69"/><text class="t" x="68.5" y="28.5">H04</text></g>
<g id="H05" transform="translate(825,1662)"><rect class="b" width="137" height="69"/><text class="t" x="68.5" y="28.5">H05</text></g>
<g id="H06" transform="translate(825,1592)"><rect class="b" width="137" height="69"/><text class="t" x="68.5" y="28.5">H06</text></g>
<g id="H07" transform="translate(825,1521)"><rect class="b" width="137" height="69"/><text class="t" x="68.5" y="28.5">H07</text></g>
<g id="H08" transform="translate(827,1451)"><rect class="b" width="137" height="69"/><text class="t" x="68.5" y="28.5">H08</text></g>
<g id="H09" transform="translate(824,1381)"><rect class="b" width="137" height="69"/><text class="t" x="68.5" y="28.5">H09</text></g>
<g id="H10" transform="translate(822,1310)"><rect class="b" width="137" height="69"/><text class="t" x="68.5" y="28.5">H10</text></g>
<g id="H11" transform="translate(822,1240)"><rect class="b" width="137" height="69"/><text class="t" x="68.5" y="28.5">H11</text></g>
<g id="H12" transform="translate(822,1170)"><rect class="b" width="137" height="69"/><text class="t" x="68.5" y="28.5">H12</text></g>
<g id="H13" transform="translate(824,1099)"><rect class="b" width="137" height="69"/><text class="t" x="68.5" y="28.5">H13</text></g>
<g id="H14" transform="translate(818,1029)"><rect class="b" width="137" height="69"/><text class="t" x="68.5" y="28.5">H14</text></g>
<g id="H15" transform="translate(822,959)"><rect class="b" width="137" height="69"/><text class="t" x="68.5" y="28.5">H15</text></g>
</g>
<g id="connectors">
<line class="ar" x1="958" y1="238" x2="1723" y2="238"/>
<line class="ar" x1="1112" y1="716" x2="1876" y2="716"/>
<line class="ar" x1="2726" y1="1062" x2="2726" y2="1825"/>
<line class="ar" x1="2307" y1="1114" x2="2307" y2="1875"/>
<line class="ar" x1="1978" y1="2264" x2="1216" y2="2262"/>
<line class="ar" x1="1927" y1="2726" x2="1166" y2="2725"/>
<line class="ar" x1="276" y1="1836" x2="276" y2="1075"/>
<line class="ar" x1="731" y1="1876" x2="731" y2="1111"/>
</g>
<g id="labels">
<text class="sm" x="881" y="261">A</text>
<text class="bg" x="1820" y="297">A</text>
<text class="sm" x="1003" y="740">E</text>
<text class="bg" x="1980" y="751">E</text>
<text class="sm" x="2722" y="1003">B</text>
<text class="bg" x="2732" y="1993">B</text>
<text class="sm" x="2308" y="1057">F</text>
<text class="bg" x="2319" y="2023">F</text>
<text class="sm" x="2042" y="2284">G</text>
<text class="bg" x="1138" y="2321">G</text>
<text class="sm" x="1994" y="2747">C</text>
<text class="bg" x="1070" y="2757">C</text>
<text class="sm" x="280" y="1936">D</text>
<text class="bg" x="280" y="986">D</text>
<text class="sm" x="733" y="1970">H</text>
<text class="bg" x="744" y="1043">H</text>
</g>
</svg>
